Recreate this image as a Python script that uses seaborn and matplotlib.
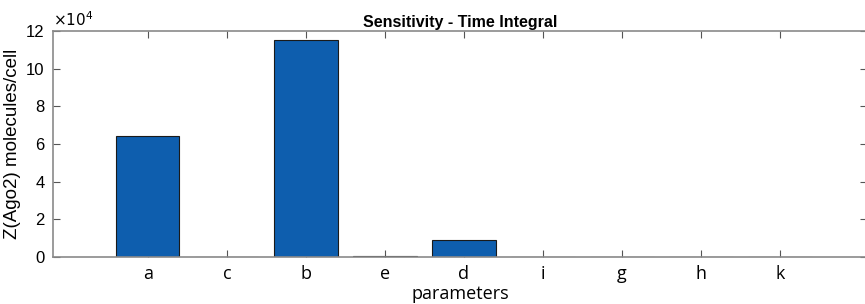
import matplotlib
matplotlib.use("Agg")
import matplotlib.pyplot as plt
import pandas as pd
import seaborn as sns

# parameter order as plotted, values in molecules/cell
parameters = ["a", "c", "b", "e", "d", "i", "g", "h", "k"]
z_ago2 = [64000, 150, 115000, 500, 9000, 0, 0, 0, 0]

BAR_COLOR = "#0E5EAE"
AXIS_COLOR = "#8a8a8a"

sns.set_style("white")
plt.rcParams["font.family"] = ["Liberation Sans", "DejaVu Sans"]
plt.rcParams["text.color"] = "black"
plt.rcParams["axes.labelcolor"] = "black"
plt.rcParams["xtick.labelcolor"] = "black"
plt.rcParams["ytick.labelcolor"] = "black"

df = pd.DataFrame({"parameter": parameters, "value": z_ago2})

fig = plt.figure(figsize=(8.65, 3.04), dpi=100)
ax = fig.add_axes([0.0613, 0.1546, 0.9410, 0.7434])

sns.barplot(
    data=df,
    x="parameter",
    y="value",
    order=parameters,
    color=BAR_COLOR,
    saturation=1,
    width=0.8,
    edgecolor="#1a1a1a",
    linewidth=0.8,
    ax=ax,
)

ax.set_xlim(-1.2, 9.1)
ax.set_ylim(0, 120000)
ax.set_yticks(range(0, 120001, 20000))
ax.set_yticklabels([str(v // 10000) for v in range(0, 120001, 20000)], fontsize=12)
ax.tick_params(axis="x", labelsize=13)
for lab in ax.get_xticklabels():
    lab.set_fontfamily(["Open Sans", "DejaVu Sans"])

ax.tick_params(
    direction="in", length=5, width=0.8, color="#555555",
    top=True, right=True, bottom=True, left=True, pad=6,
)
for side in ["top", "bottom", "left", "right"]:
    ax.spines[side].set_visible(True)
    ax.spines[side].set_color(AXIS_COLOR)
    ax.spines[side].set_linewidth(1.2)

ax.set_xlabel("parameters", fontsize=13, family=["Open Sans", "DejaVu Sans"], labelpad=1)
ax.set_ylabel("Z(Ago2) molecules/cell", fontsize=13.5, labelpad=4)
ax.set_title("Sensitivity - Time Integral", fontsize=11.5, fontweight="bold", pad=3)
ax.text(0.0, 1.01, r"$\times10^4$", transform=ax.transAxes, fontsize=11,
        ha="left", va="bottom")

fig.savefig("out.png", dpi=100)
